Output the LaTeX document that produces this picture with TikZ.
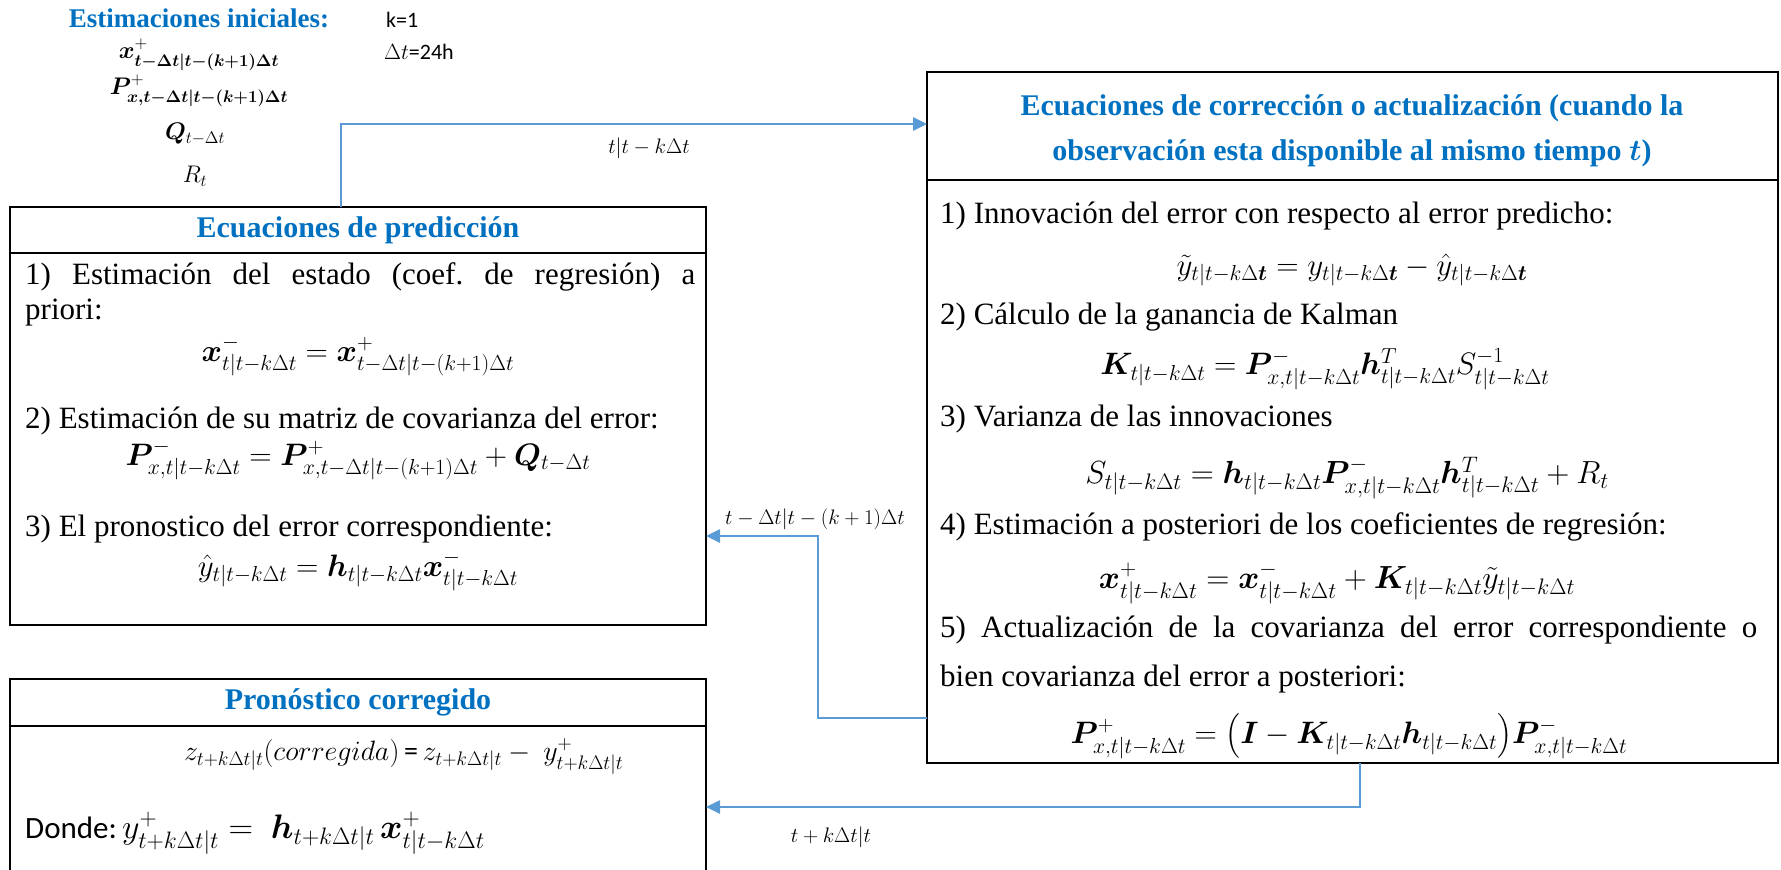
\documentclass[tikz,border=0pt]{standalone}
\usepackage{fix-cm}
\usepackage{amsmath,bm}
\usepackage{fontspec}
\setmainfont{Liberation Serif}
\newfontfamily\carlito{Carlito}
\usetikzlibrary{arrows.meta}
\definecolor{titleblue}{RGB}{0,112,192}
\definecolor{arrowblue}{RGB}{91,155,213}
\newcommand{\tk}{t|t-k\Delta t}

\begin{document}
\begin{tikzpicture}[x=1pt,y=-1pt,
	box/.style={draw=black,line width=1.3pt,inner sep=0pt,outer sep=0pt},
	flow/.style={draw=arrowblue,line width=2.6pt,-{Triangle[length=14pt,width=13pt]}},
	ttl/.style={text=titleblue,font=\bfseries\fontsize{30}{36}\selectfont,inner sep=0pt},
	txt/.style={font=\fontsize{31}{36}\selectfont,inner sep=0pt,anchor=west},
	eq/.style={font=\fontsize{31}{36}\selectfont,inner sep=0pt},
	lbl/.style={font=\fontsize{21}{25}\selectfont,inner sep=0pt}]
\useasboundingbox (0,0) rectangle (1781,870);

% estimaciones iniciales
\node[ttl,font=\bfseries\fontsize{27}{32}\selectfont] (ini) at (199,18) {Estimaciones iniciales:};
\node[eq,font=\fontsize{24}{28}\selectfont] (inix) at (199,55) {$\bm{x}^{+}_{\bm{t-\Delta t|t-(k+1)\Delta t}}$};
\node[eq,font=\fontsize{24}{28}\selectfont] (inip) at (199,91) {$\bm{P}^{+}_{\bm{x,t-\Delta t|t-(k+1)\Delta t}}$};
\node[eq,font=\fontsize{24}{28}\selectfont] (iniq) at (195,134) {$\bm{Q}_{t-\Delta t}$};
\node[eq,font=\fontsize{24}{28}\selectfont] (inir) at (195,176) {$R_t$};
\node[anchor=west,inner sep=0pt,font=\carlito\fontsize{22}{26}\selectfont] (kval) at (386,20) {k=1};
\node[anchor=west,inner sep=0pt,font=\carlito\fontsize{22}{26}\selectfont] (dtval) at (384,52) {$\Delta t$=24h};

% cajas
\node[box,minimum width=696pt,minimum height=418pt] (pred) at (358,416) {};
\node[box,minimum width=851pt,minimum height=691pt] (corr) at (1352.5,417.5) {};
\node[box,minimum width=696pt,minimum height=240pt] (pron) at (358,799) {};
\draw[box] ([yshift=-46pt]pred.north west) -- ([yshift=-46pt]pred.north east);
\draw[box] ([yshift=-108pt]corr.north west) -- ([yshift=-108pt]corr.north east);
\draw[box] ([yshift=-47pt]pron.north west) -- ([yshift=-47pt]pron.north east);

% prediccion
\node[ttl] (predt) at (358,230) {Ecuaciones de predicción};
\node[txt] (p1) at (25,277) {\makebox[670pt][s]{1) Estimación del estado (coef.\ de regresión) a}};
\node[txt] (p1b) at (25,313) {priori:};
\node[eq] (pe1) at (358,356) {$\bm{x}^{-}_{\tk}=\bm{x}^{+}_{t-\Delta t|t-(k+1)\Delta t}$};
\node[txt] (p2) at (25,421) {2) Estimación de su matriz de covarianza del error:};
\node[eq] (pe2) at (358,460) {$\bm{P}^{-}_{x,\tk}=\bm{P}^{+}_{x,t-\Delta t|t-(k+1)\Delta t}+\bm{Q}_{t-\Delta t}$};
\node[txt] (p3) at (25,529) {3) El pronostico del error correspondiente:};
\node[eq] (pe3) at (358,571) {$\hat{y}_{\tk}=\bm{h}_{\tk}\bm{x}^{-}_{\tk}$};

% correccion
\node[ttl] (corrt1) at (1352,108) {Ecuaciones de corrección o actualización (cuando la};
\node[ttl] (corrt2) at (1352,153) {observación esta disponible al mismo tiempo $\bm{t}$)};
\node[txt] (c1) at (940,216) {1) Innovación del error con respecto al error predicho:};
\node[eq] (ce1) at (1352,270) {$\tilde{y}_{t|t-k\Delta\bm{t}}=y_{t|t-k\Delta\bm{t}}-\hat{y}_{t|t-k\Delta\bm{t}}$};
\node[txt] (c2) at (940,317) {2) Cálculo de la ganancia de Kalman};
\node[eq] (ce2) at (1325,369) {$\bm{K}_{\tk}=\bm{P}^{-}_{x,\tk}\bm{h}^{T}_{\tk}S^{-1}_{\tk}$};
\node[txt] (c3) at (940,419) {3) Varianza de las innovaciones};
\node[eq,font=\fontsize{32}{38}\selectfont] (ce3) at (1347,478) {$S_{\tk}=\bm{h}_{\tk}\bm{P}^{-}_{x,\tk}\bm{h}^{T}_{\tk}+R_t$};
\node[txt] (c4) at (940,527) {4) Estimación a posteriori de los coeficientes de regresión:};
\node[eq,font=\fontsize{32}{38}\selectfont] (ce4) at (1337,583) {$\bm{x}^{+}_{\tk}=\bm{x}^{-}_{\tk}+\bm{K}_{\tk}\tilde{y}_{\tk}$};
\node[txt] (c5) at (940,630) {\makebox[817pt][s]{5) Actualización de la covarianza del error correspondiente o}};
\node[txt] (c5b) at (940,679) {bien covarianza del error a posteriori:};
\node[eq] (ce5) at (1349,736) {$\bm{P}^{+}_{x,\tk}=\bigl(\bm{I}-\bm{K}_{\tk}\bm{h}_{\tk}\bigr)\bm{P}^{-}_{x,\tk}$};

% pronostico corregido
\node[ttl] (pront) at (358,702) {Pronóstico corregido};
\node[txt,font=\fontsize{28}{34}\selectfont] (z1) at (184,756) {$z_{t+k\Delta t|t}(corregida)$\,{\carlito=}\,$z_{t+k\Delta t|t}-\ y^{+}_{t+k\Delta t|t}$};
\node[txt] (z2) at (25,833) {{\carlito Donde:}\,{\fontsize{34}{40}\selectfont$y^{+}_{t+k\Delta t|t}=\ \bm{h}_{t+k\Delta t|t}\,\bm{x}^{+}_{\tk}$}};

% flechas
\coordinate (up) at (341,124);
\coordinate (ret) at (818,718);
\coordinate (back) at (818,536);
\coordinate (down) at (1360,807);
\draw[flow] (pred.north -| up) |- (corr.west |- up);
\draw[flow] (corr.west |- ret) -- (ret) |- (pred.east |- back);
\draw[flow] (corr.south -| down) |- (pron.east |- down);
\node[lbl] (l1) at (649,148) {$\tk$};
\node[lbl] (l2) at (815,519) {$t-\Delta t|t-(k+1)\Delta t$};
\node[lbl] (l3) at (831,837) {$t+k\Delta t|t$};
\end{tikzpicture}
\end{document}
